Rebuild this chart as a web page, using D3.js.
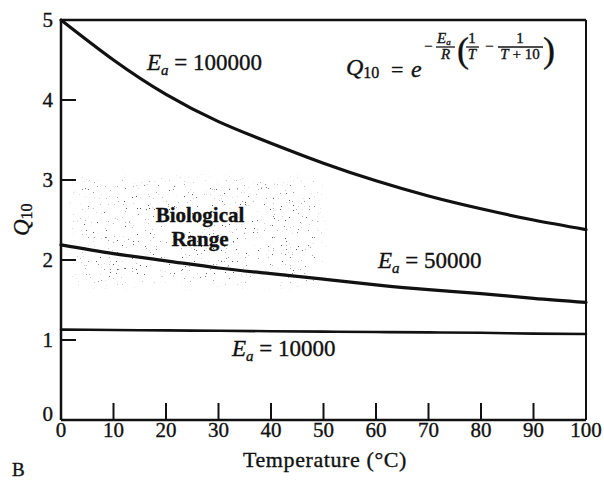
<!DOCTYPE html>
<html lang="en">
<head>
  <meta charset="UTF-8">
  <title>Q10 vs Temperature</title>
  <script src="https://d3js.org/d3.v7.min.js"></script>
  <style>
    body { margin: 0; background: #fff; }
    svg { display: block; }
    text { font-family: "Liberation Serif", "DejaVu Serif", serif; fill: #111; stroke: #111; stroke-width: 0.35px; }
    .tick-label { font-size: 21px; }
    .curve { fill: none; stroke: #111; stroke-linejoin: round; stroke-linecap: round; }
    .it { font-style: italic; }
  </style>
</head>
<body>
<div id="chart"></div>
<script>
// temperature (°C) at which curve values were read
const temps = [0, 10, 20, 30, 40, 50, 60, 70, 80, 90, 100];
// Q10 values for each activation energy
const q100000 = [5.0, 4.50, 4.07, 3.73, 3.46, 3.21, 2.99, 2.80, 2.64, 2.50, 2.38];
const q50000  = [2.19, 2.08, 1.99, 1.90, 1.83, 1.76, 1.69, 1.63, 1.58, 1.52, 1.47];
const q10000  = [1.13, 1.125, 1.12, 1.115, 1.11, 1.105, 1.10, 1.095, 1.09, 1.08, 1.075];
const xTicks = [0, 10, 20, 30, 40, 50, 60, 70, 80, 90, 100];
const yTicks = [0, 1, 2, 3, 4, 5];
// biological range box (°C, Q10)
const bioTemp = [3, 49];
const bioQ = [1.72, 2.98];

const width = 604, height = 482;

const x = d3.scaleLinear().domain([0, 100]).range([61, 586]);
const y = d3.scaleLinear().domain([0, 5]).range([420, 20]);

const svg = d3.select("#chart").append("svg")
  .attr("width", width)
  .attr("height", height);

const defs = svg.append("defs");
const filt = defs.append("filter").attr("id", "stipple")
  .attr("x", "-15%").attr("y", "-15%").attr("width", "130%").attr("height", "130%");
filt.append("feTurbulence").attr("type", "fractalNoise").attr("baseFrequency", 0.75)
  .attr("numOctaves", 2).attr("seed", 7).attr("result", "noise");
filt.append("feColorMatrix").attr("in", "noise").attr("type", "matrix")
  .attr("values", "0 0 0 0 0.1  0 0 0 0 0.1  0 0 0 0 0.1  14 0 0 0 -10.0")
  .attr("result", "dots");
filt.append("feGaussianBlur").attr("in", "SourceAlpha").attr("stdDeviation", 6).attr("result", "soft");
filt.append("feComposite").attr("in", "dots").attr("in2", "soft").attr("operator", "in");

// stippled biological range
svg.append("rect")
  .attr("x", x(bioTemp[0]))
  .attr("y", y(bioQ[1]))
  .attr("width", x(bioTemp[1]) - x(bioTemp[0]))
  .attr("height", y(bioQ[0]) - y(bioQ[1]))
  .attr("fill", "#000")
  .attr("filter", "url(#stipple)");

svg.append("text")
  .attr("x", 200).attr("y", 222)
  .attr("text-anchor", "middle")
  .attr("font-weight", "bold")
  .attr("font-size", 21)
  .text("Biological");
svg.append("text")
  .attr("x", 200).attr("y", 246)
  .attr("text-anchor", "middle")
  .attr("font-weight", "bold")
  .attr("font-size", 21)
  .text("Range");

// frame
const frame = svg.append("g").attr("stroke", "#111").attr("fill", "none");
frame.append("line").attr("x1", x(0)).attr("x2", x(100)).attr("y1", y(0)).attr("y2", y(0)).attr("stroke-width", 2.5);
frame.append("line").attr("x1", x(0)).attr("x2", x(0)).attr("y1", y(0)).attr("y2", y(5)).attr("stroke-width", 2.5);
frame.append("line").attr("x1", x(0)).attr("x2", x(100)).attr("y1", y(5)).attr("y2", y(5)).attr("stroke-width", 2.5);
frame.append("line").attr("x1", x(100)).attr("x2", x(100)).attr("y1", y(5)).attr("y2", y(0)).attr("stroke-width", 2);

// inward ticks
frame.selectAll(".xt").data(xTicks.slice(1, -1)).enter().append("line")
  .attr("x1", d => x(d)).attr("x2", d => x(d))
  .attr("y1", y(0)).attr("y2", y(0) - 17)
  .attr("stroke-width", 2);
frame.selectAll(".yt").data(yTicks.slice(1, -1)).enter().append("line")
  .attr("x1", x(0)).attr("x2", x(0) + 15)
  .attr("y1", d => y(d)).attr("y2", d => y(d))
  .attr("stroke-width", 2);

svg.selectAll(".xl").data(xTicks).enter().append("text")
  .attr("class", "tick-label")
  .attr("x", d => x(d)).attr("y", 437)
  .attr("text-anchor", "middle")
  .text(d => d);
svg.selectAll(".yl").data(yTicks).enter().append("text")
  .attr("class", "tick-label")
  .attr("x", 53).attr("y", d => y(d) + (d === 0 ? 1 : 7))
  .attr("text-anchor", "end")
  .text(d => d);

// curves
const line = d3.line()
  .x((d, i) => x(temps[i]))
  .y(d => y(d))
  .curve(d3.curveNatural);

[[q100000, 3.2], [q50000, 3.2], [q10000, 2.6]].forEach(([vals, w]) => {
  svg.append("path").attr("class", "curve")
    .attr("stroke-width", w)
    .attr("d", line(vals));
});

// curve labels
function eaLabel(px, py, value) {
  const t = svg.append("text").attr("x", px).attr("y", py).attr("font-size", 23);
  t.append("tspan").attr("class", "it").text("E");
  t.append("tspan").attr("class", "it").attr("font-size", 15).attr("dy", 5).text("a");
  t.append("tspan").attr("dy", -5).text(" = " + value);
}
eaLabel(147, 70, "100000");
eaLabel(378, 268, "50000");
eaLabel(232, 356, "10000");

// formula
const f = svg.append("g");
const q = f.append("text").attr("x", 346).attr("y", 75).attr("font-size", 24);
q.append("tspan").attr("class", "it").text("Q");
q.append("tspan").attr("font-size", 16).attr("dy", 3).text("10");
f.append("text").attr("x", 391).attr("y", 77).attr("font-size", 22).text("=");
f.append("text").attr("x", 411).attr("y", 77).attr("font-size", 24).attr("class", "it").text("e");
f.append("text").attr("x", 424).attr("y", 51).attr("font-size", 15).text("\u2212");
const ea = f.append("text").attr("x", 437).attr("y", 43).attr("font-size", 15);
ea.append("tspan").attr("class", "it").text("E");
ea.append("tspan").attr("class", "it").attr("font-size", 9).attr("dy", 2).text("a");
f.append("text").attr("x", 441).attr("y", 59).attr("font-size", 15).attr("class", "it").text("R");
f.append("line").attr("x1", 436).attr("x2", 455).attr("y1", 47).attr("y2", 47).attr("stroke", "#111").attr("stroke-width", 1.3);
f.append("text").attr("x", 457).attr("y", 62).attr("font-size", 36).text("(");
f.append("text").attr("x", 472).attr("y", 43).attr("font-size", 15).attr("text-anchor", "middle").text("1");
f.append("text").attr("x", 472).attr("y", 59).attr("font-size", 15).attr("text-anchor", "middle").attr("class", "it").text("T");
f.append("line").attr("x1", 466).attr("x2", 479).attr("y1", 47).attr("y2", 47).attr("stroke", "#111").attr("stroke-width", 1.3);
f.append("text").attr("x", 485).attr("y", 51).attr("font-size", 15).text("\u2212");
f.append("text").attr("x", 520).attr("y", 43).attr("font-size", 15).attr("text-anchor", "middle").text("1");
const tt = f.append("text").attr("x", 520).attr("y", 59).attr("font-size", 15).attr("text-anchor", "middle");
tt.append("tspan").attr("class", "it").text("T");
tt.append("tspan").text(" + 10");
f.append("line").attr("x1", 498).attr("x2", 543).attr("y1", 47).attr("y2", 47).attr("stroke", "#111").attr("stroke-width", 1.3);
f.append("text").attr("x", 543).attr("y", 62).attr("font-size", 36).text(")");

// axis titles
svg.append("text")
  .attr("x", 325).attr("y", 467)
  .attr("text-anchor", "middle")
  .attr("font-size", 22)
  .attr("letter-spacing", 0.6)
  .text("Temperature (\u00b0C)");

const yl = svg.append("text")
  .attr("transform", "translate(29,236) rotate(-90)")
  .attr("font-size", 23);
yl.append("tspan").attr("class", "it").text("Q");
yl.append("tspan").attr("font-size", 16).attr("dy", 3).text("10");

svg.append("text")
  .attr("x", 12).attr("y", 476)
  .attr("font-size", 19)
  .text("B");
</script>
</body>
</html>
